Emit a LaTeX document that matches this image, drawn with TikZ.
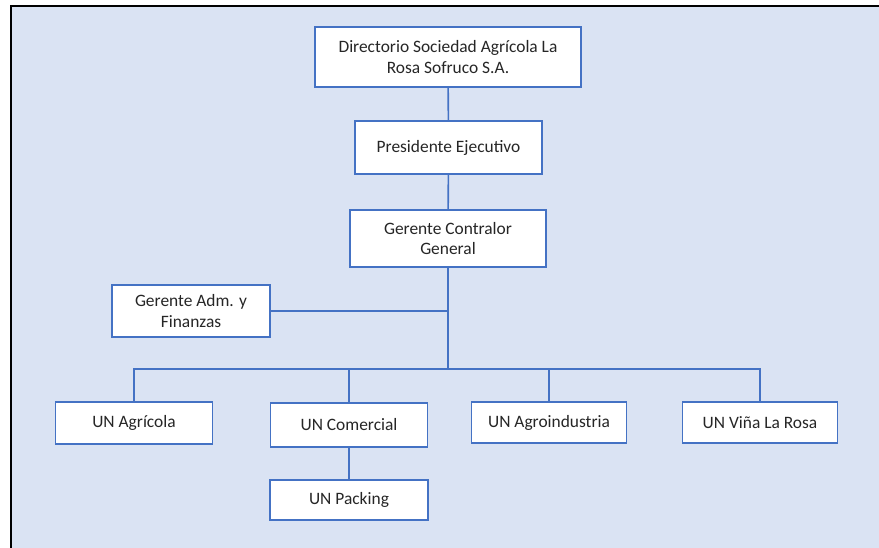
\documentclass[tikz,border=0pt]{standalone}
\usepackage{tikz}
\usepackage{fontspec}
\setmainfont{Carlito}
\definecolor{fondo}{HTML}{DAE3F3}
\definecolor{azul}{HTML}{4472C4}

\begin{document}
\begin{tikzpicture}[x = 1pt, y = -1pt,
  caja/.style = {draw = azul, fill = white, line width = 1.8pt, inner sep = 0pt,
    align = center, text = black!85, font = \fontsize{17.4}{20.5}\selectfont},
  linea/.style = {draw = azul, line width = 1.6pt}]
  \useasboundingbox (0, 0) rectangle (879, 548);
  \fill[fondo] (10, 6) rectangle (879, 548);
  \draw[line width = 2pt] (10.5, 548) -- (10.5, 6) -- (879, 6);

  \node[caja, minimum width = 266, minimum height = 60] (dir) at (448, 57) {Directorio Sociedad Agrícola La\\Rosa Sofruco S.A.};
  \node[caja, minimum width = 187, minimum height = 53] (pres) at (448.5, 147.5) {Presidente Ejecutivo};
  \node[caja, minimum width = 196, minimum height = 57] (ger) at (448, 238.5) {Gerente Contralor\\General};
  \node[caja, minimum width = 158, minimum height = 52] (adm) at (191, 311) {Gerente Adm. y\\Finanzas};

  \coordinate (bus) at (448, 369);

  \node[caja, minimum width = 157, minimum height = 42] (agr) at (134, 423) {UN Agrícola};
  \node[caja, minimum width = 157, minimum height = 44] (com) at (349, 425) {UN Comercial};
  \node[caja, minimum width = 155, minimum height = 41] (agi) at (549, 422.5) {UN Agroindustria};
  \node[caja, minimum width = 155, minimum height = 41] (vin) at (760, 422.5) {UN Viña La Rosa};
  \node[caja, minimum width = 158, minimum height = 40] (pak) at (349, 500) {UN Packing};

  \draw[linea] (dir) -- (pres);
  \draw[linea] (pres) -- (ger);
  \draw[linea] (ger) -- (bus);
  \draw[linea] (adm.east) -- (adm.east -| bus);
  \draw[linea] (agr.north) |- (bus) -| (vin.north);
  \draw[linea] (com.north) -- (com.north |- bus);
  \draw[linea] (agi.north) -- (agi.north |- bus);
  \draw[linea] (com) -- (pak);
\end{tikzpicture}
\end{document}
